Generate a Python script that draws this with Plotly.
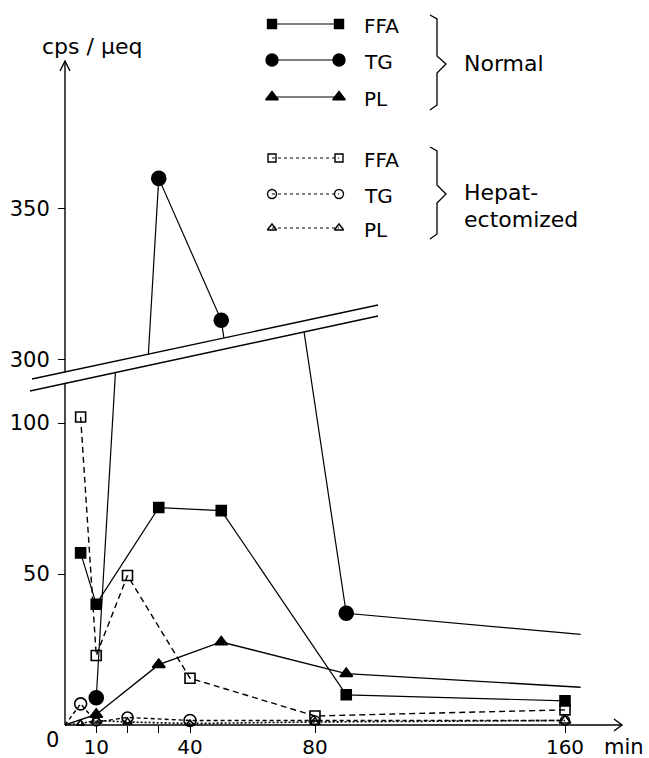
import plotly.graph_objects as go

W, H = 649, 758

# ---------------- data (time in min, activity in cps/μeq) ----------------
normal_ffa_t = [5, 10, 30, 50, 90, 160]
normal_ffa_v = [57, 40, 72, 71, 10, 8]

normal_tg_t = [10, 30, 50, 90, 165]
normal_tg_v = [9, 360, 313, 37, 30]

normal_pl_t = [0, 10, 30, 50, 90, 165]
normal_pl_v = [0, 3.5, 20, 27.5, 17, 12.5]

hep_ffa_t = [5, 10, 20, 40, 80, 160]
hep_ffa_v = [102, 23, 49.5, 15.5, 3, 5]

hep_tg_t = [0, 5, 10, 20, 40, 80, 160]
hep_tg_v = [0, 7, 1, 2.5, 1.5, 1.5, 1.5]

hep_pl_t = [0, 5, 10, 20, 40, 80, 160]
hep_pl_v = [0, 0.5, 1.5, 1, 0.5, 1, 1.5]

x_tick_vals = [10, 20, 30, 40, 80, 160]
x_tick_text = ["10", "", "", "40", "80", "160"]
y_tick_vals = [50, 100, 300, 350]

# ---------------- broken y axis ----------------
# values above the break are drawn on an upper scale shifted down by BREAK_SHIFT
BREAK_SHIFT = 179
UPPER_MIN = 200
# slanted break band (display units):  y = A + SLOPE * t
BAND_SLOPE = 0.222
BAND_LOW_A = 113.1
BAND_UP_A = 117.0


def disp(v):
    return v - BREAK_SHIFT if v >= UPPER_MIN else v


def broken_path(t, v):
    """Line path; segments crossing the break are cut at the band, each part
    drawn on its own scale (as in a two-panel broken axis)."""
    xs, ys = [t[0]], [disp(v[0])]
    for i in range(1, len(t)):
        t1, v1, t2, v2 = t[i - 1], v[i - 1], t[i], v[i]
        up1, up2 = v1 >= UPPER_MIN, v2 >= UPPER_MIN
        if up1 != up2:
            m = (v2 - v1) / (t2 - t1)
            if not up1:
                tl = (BAND_LOW_A - v1 + m * t1) / (m - BAND_SLOPE)
                tu = (BAND_UP_A - (v2 - BREAK_SHIFT) + m * t2) / (m - BAND_SLOPE)
                xs += [tl, None, tu]
                ys += [BAND_LOW_A + BAND_SLOPE * tl, None, BAND_UP_A + BAND_SLOPE * tu]
            else:
                tu = (BAND_UP_A - (v1 - BREAK_SHIFT) + m * t1) / (m - BAND_SLOPE)
                tl = (BAND_LOW_A - v2 + m * t2) / (m - BAND_SLOPE)
                xs += [tu, None, tl]
                ys += [BAND_UP_A + BAND_SLOPE * tu, None, BAND_LOW_A + BAND_SLOPE * tl]
        xs.append(t2)
        ys.append(disp(v2))
    return xs, ys


FONT = "DejaVu Sans"
BLACK = "black"

fig = go.Figure()


def add_series(t, v, symbol, sizes, dash, width=1.2, mline=1.6):
    lx, ly = broken_path(t, v)
    fig.add_trace(go.Scatter(
        x=lx, y=ly, mode="lines", connectgaps=False,
        line=dict(color=BLACK, width=width, dash=dash),
        showlegend=False, hoverinfo="skip",
    ))
    fig.add_trace(go.Scatter(
        x=t, y=[disp(a) for a in v], mode="markers",
        marker=dict(symbol=symbol, size=sizes, color=BLACK, opacity=1,
                    line=dict(color=BLACK, width=mline)),
        showlegend=False,
    ))


# marker sizes per point (0 = line end without symbol)
add_series(hep_pl_t, hep_pl_v, "triangle-up-open", [0, 7, 10, 8, 7, 9, 10], "2px,2px", width=1.6)
add_series(hep_tg_t, hep_tg_v, "circle-open", [0, 12, 8, 11, 12, 9, 9], "4px,3px", width=1.4)
add_series(hep_ffa_t, hep_ffa_v, "square-open", [10] * 6, "6px,4px", width=1.4)
add_series(normal_pl_t, normal_pl_v, "triangle-up", [0, 11, 11, 11, 11, 0], "solid", width=1.4)
add_series(normal_tg_t, normal_tg_v, "circle", [14, 14, 14, 14, 0], "solid")
add_series(normal_ffa_t, normal_ffa_v, "square", [10] * 6, "solid")

# ---------------- legend samples (pixel-coordinate overlay axes) ----------------
leg_x = [272, 339]
legend_rows = [
    (24, "square", 9, "solid", "FFA"),
    (60, "circle", 12, "solid", "TG"),
    (97, "triangle-up", 11, "solid", "PL"),
    (158, "square-open", 8, "3px,3px", "FFA"),
    (194, "circle-open", 9, "3px,3px", "TG"),
    (228, "triangle-up-open", 8, "3px,3px", "PL"),
]
for y, sym, sz, dash, lab in legend_rows:
    fig.add_trace(go.Scatter(
        x=leg_x, y=[y, y], xaxis="x2", yaxis="y2", mode="lines+markers",
        line=dict(color=BLACK, width=1.2, dash=dash),
        marker=dict(symbol=sym, size=sz, color=BLACK, line=dict(color=BLACK, width=1.4)),
        showlegend=False, hoverinfo="skip",
    ))

annotations = []
for y, sym, sz, dash, lab in legend_rows:
    annotations.append(dict(x=362, y=y + 2, xref="x2", yref="y2", text=lab, showarrow=False,
                            xanchor="left", yanchor="middle",
                            font=dict(family=FONT, size=20, color=BLACK)))
annotations += [
    dict(x=462, y=63, xref="x2", yref="y2", text="Normal", showarrow=False,
         xanchor="left", yanchor="middle", font=dict(family=FONT, size=22, color=BLACK)),
    dict(x=462, y=192, xref="x2", yref="y2", text="Hepat-", showarrow=False,
         xanchor="left", yanchor="middle", font=dict(family=FONT, size=22, color=BLACK)),
    dict(x=462, y=219, xref="x2", yref="y2", text="ectomized", showarrow=False,
         xanchor="left", yanchor="middle", font=dict(family=FONT, size=22, color=BLACK)),
    dict(x=40, y=46, xref="x2", yref="y2", text="cps / μeq", showarrow=False,
         xanchor="left", yanchor="middle", font=dict(family=FONT, size=22, color=BLACK)),
    dict(x=52, y=740, xref="x2", yref="y2", text="0", showarrow=False,
         xanchor="center", yanchor="middle", font=dict(family=FONT, size=21, color=BLACK)),
    dict(x=646, y=747, xref="x2", yref="y2", text="min", showarrow=False,
         xanchor="right", yanchor="middle", font=dict(family=FONT, size=21, color=BLACK)),
]

# ---------------- decorations: axes lines, arrows, break, braces ----------------
line = dict(color=BLACK, width=1.4)
shapes = [
    dict(type="line", xref="x2", yref="y2", x0=65, y0=725, x1=65, y1=61, line=line, layer="above"),
    dict(type="line", xref="x2", yref="y2", x0=65, y0=725, x1=622, y1=725, line=line, layer="above"),
    dict(type="path", xref="x2", yref="y2", path="M 60 71 L 65 61 L 70 71", line=line, layer="above"),
    dict(type="path", xref="x2", yref="y2", path="M 614 719 L 622 725 L 614 731", line=line, layer="above"),
    # axis break: white band with two slanted lines
    dict(type="path", xref="x2", yref="y2", path="M 30 391 L 378 316 L 378 305 L 32 379 Z",
         fillcolor="white", line=dict(color="white", width=0), layer="above"),
    dict(type="line", xref="x2", yref="y2", x0=32, y0=379, x1=378, y1=305, line=line, layer="above"),
    dict(type="line", xref="x2", yref="y2", x0=30, y0=391, x1=378, y1=316, line=line, layer="above"),
    # braces
    dict(type="path", xref="x2", yref="y2",
         path="M 430 15 L 437 19 L 437 56 L 446 64 L 437 73 L 437 105 L 430 110",
         line=dict(color=BLACK, width=1.3), layer="above"),
    dict(type="path", xref="x2", yref="y2",
         path="M 430 147 L 437 151 L 437 185 L 446 194 L 437 203 L 437 234 L 430 239",
         line=dict(color=BLACK, width=1.3), layer="above"),
]

fig.update_layout(
    width=W, height=H,
    margin=dict(l=0, r=0, t=0, b=0),
    paper_bgcolor="white", plot_bgcolor="white",
    font=dict(family=FONT, size=21, color=BLACK),
    xaxis=dict(
        range=[-65 / 3.125, (W - 65) / 3.125], domain=[0, 1],
        anchor="free", position=(H - 725) / H,
        showline=False, showgrid=False, zeroline=False,
        ticks="outside", ticklen=7, tickwidth=1.3, tickcolor=BLACK,
        ticklabelstandoff=-3,
        tickvals=x_tick_vals, ticktext=x_tick_text,
        tickfont=dict(family=FONT, size=20, color=BLACK),
    ),
    yaxis=dict(
        range=[(725 - H) / 3.02, 725 / 3.02], domain=[0, 1],
        anchor="free", position=65 / W,
        showline=False, showgrid=False, zeroline=False,
        ticks="outside", ticklen=7, tickwidth=1.3, tickcolor=BLACK,
        ticklabelstandoff=4,
        tickvals=[disp(v) for v in y_tick_vals], ticktext=[str(v) for v in y_tick_vals],
        tickfont=dict(family=FONT, size=21, color=BLACK),
    ),
    xaxis2=dict(range=[0, W], overlaying="x", visible=False, domain=[0, 1]),
    yaxis2=dict(range=[H, 0], overlaying="y", visible=False, domain=[0, 1]),
    shapes=shapes,
    annotations=annotations,
    showlegend=False,
)

fig.write_html("out.html",
               config={"displayModeBar": False},
               post_script="document.body.style.margin='0';document.body.style.overflow='hidden';")
